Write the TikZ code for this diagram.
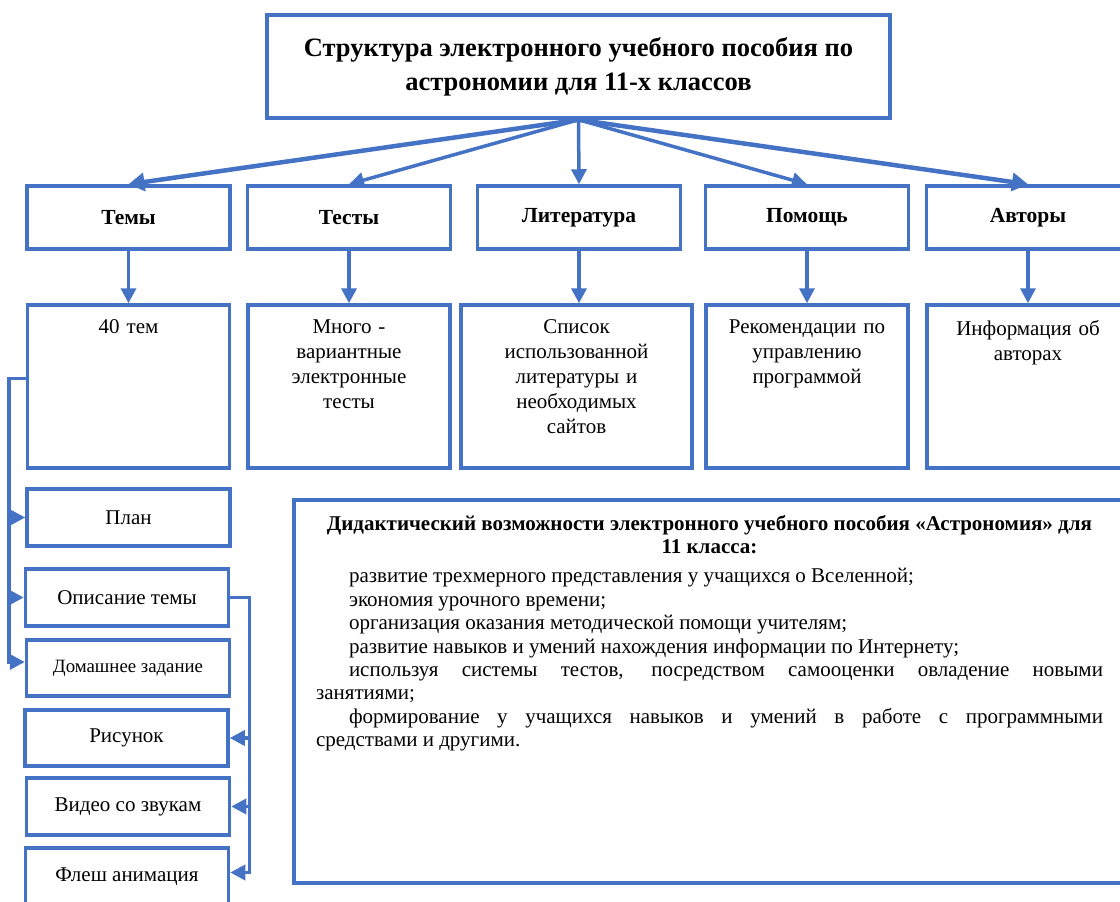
\documentclass[tikz,border=0pt]{standalone}
\usepackage{fontspec}
\setmainfont{Liberation Serif}
\usetikzlibrary{positioning,arrows.meta}
\definecolor{boxblue}{HTML}{4472C4}
\newcommand{\topbox}[2]{\parbox[c][#1][t]{\linewidth}{\centering #2}}

\begin{document}
\begin{tikzpicture}[x=1pt,y=-1pt,
  box/.style={draw=boxblue,line width=3.5pt,align=center,inner sep=2pt},
  head/.style={box,minimum width=203pt,minimum height=63pt,font=\fontsize{21.5}{24}\selectfont\bfseries},
  desc/.style={box,text width=194pt,inner xsep=4pt,inner ysep=15pt,font=\fontsize{21}{25}\selectfont},
  part/.style={box,minimum width=203pt,minimum height=57pt,font=\fontsize{21}{24}\selectfont},
  arr/.style={draw=boxblue,line width=3.5pt,-{Triangle[length=15pt,width=15pt]}},
  bigarr/.style={arr,line width=4.5pt,-{Triangle[length=16pt,width=18pt]}}]
\useasboundingbox (0,0) rectangle (1120,902);
\clip (0,0) rectangle (1120,902);
% title
\node[box,minimum width=623pt,minimum height=103pt,font=\fontsize{26.5}{34}\selectfont\bfseries] (title) at (578.5,66.5)
  {Структура электронного учебного пособия по\\астрономии для 11-х классов};
% sections
\node[head] (temy) at (128.5,217.5) {Темы};
\node[head] (testy) at (349,217.5) {Тесты};
\node[head] (lit) at (579,217.5) {Литература};
\node[head] (pomosh) at (807,217.5) {Помощь};
\node[head] (avtory) at (1028,217.5) {Авторы};
% contents
\node[desc] (tem40) at (128.5,386.5) {\topbox{133pt}{40 тем}};
\node[desc] (mnogo) at (349,386.5) {\topbox{133pt}{Много -\\вариантные\\электронные\\тесты}};
\node[desc,text width=223pt] (spisok) at (576.5,386.5) {\topbox{133pt}{Список\\использованной\\литературы и\\необходимых\\сайтов}};
\node[desc] (rekom) at (807,386.5) {\topbox{133pt}{Рекомендации по\\управлению\\программой}};
\node[desc] (info) at (1028,386.5) {\topbox{133pt}{Информация об\\авторах}};
% parts of a theme
\node[part] (plan) at (128.5,517.5) {План};
\node[part] (opis) at (127,597.5) {Описание темы};
\node[part,minimum height=56pt,font=\fontsize{18.8}{22}\selectfont] (dz) at (128,668) {Домашнее задание};
\node[part,minimum height=56pt] (ris) at (126.5,738) {Рисунок};
\node[part] (video) at (128,806.5) {Видео со звукам};
\node[part] (flesh) at (127,876.5) {Флеш анимация};
% didactics
\node[box,text width=787pt,inner xsep=22pt,inner ysep=15pt,align=justify,font=\fontsize{21}{23.4}\selectfont] (didact) at (709.5,691.5)
  {\parbox[c][353pt][t]{\linewidth}{\setlength{\parindent}{33pt}%
  {\centering\bfseries Дидактический возможности электронного учебного пособия «Астрономия» для\\11 класса:\par}
  \vspace{6pt}
  развитие трехмерного представления у учащихся о Вселенной;\par
  экономия урочного времени;\par
  организация оказания методической помощи учителям;\par
  развитие навыков и умений нахождения информации по Интернету;\par
  используя системы тестов, посредством самооценки овладение новыми\linebreak занятиями;\par
  формирование у учащихся навыков и умений в работе с программными\linebreak средствами и другими.\par}};
% arrows
\draw[bigarr] (title.south) -- (temy.north);
\draw[arr] (title.south) -- (testy.north);
\draw[arr] (title.south) -- (lit.north);
\draw[arr] (title.south) -- (pomosh.north);
\draw[bigarr] (title.south) -- (avtory.north);
\draw[arr] (temy) -- (tem40);
\draw[arr] (testy) -- (mnogo);
\draw[arr] (lit.south) -- (lit.south |- spisok.north);
\draw[arr] (pomosh) -- (rekom);
\draw[arr] (avtory) -- (info);
\draw[arr] ([yshift=8pt]tem40.west) -- ++(-17,0) coordinate (lbus) |- ([yshift=6pt]dz.west);
\draw[arr] (lbus |- plan.west) -- (plan.west);
\draw[arr] (lbus |- opis.west) -- (opis.west);
\draw[arr] (opis.east) -- ++(19,0) coordinate (rbus) |- ([yshift=4pt]flesh.east);
\draw[arr] (rbus |- ris.east) -- (ris.east);
\draw[arr] (rbus |- video.east) -- (video.east);
\end{tikzpicture}
\end{document}
